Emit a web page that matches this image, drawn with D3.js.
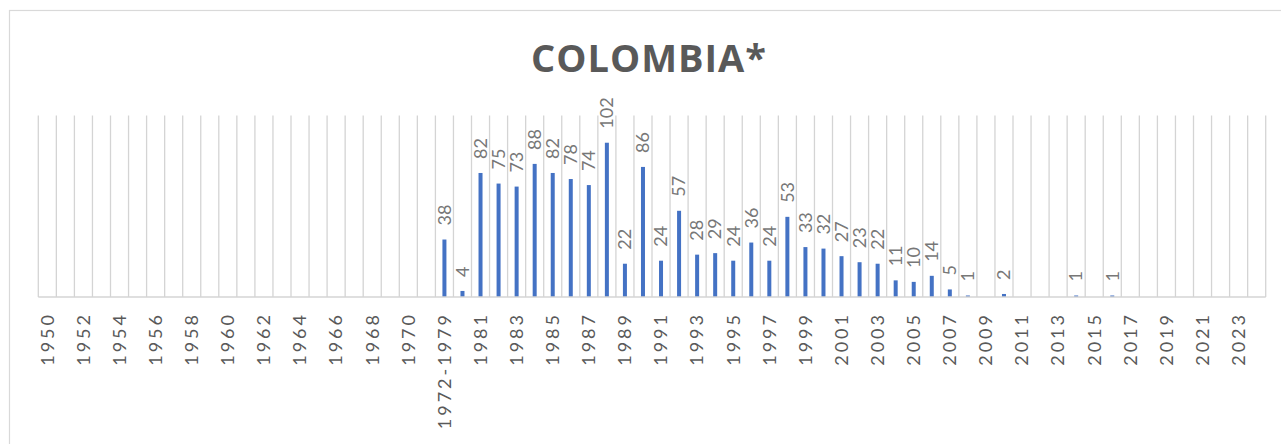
<!DOCTYPE html>
<html>
<head>
<meta charset="utf-8">
<script src="https://cdn.jsdelivr.net/npm/d3@7"></script>
<style>
  html, body { margin: 0; padding: 0; background: #fff; }
  svg { display: block; }
</style>
</head>
<body>
<svg id="chart" width="1281" height="444"></svg>
<script>
// ---- data ----
const title = "COLOMBIA*";
const categories = [
  "1950","1951","1952","1953","1954","1955","1956","1957","1958","1959",
  "1960","1961","1962","1963","1964","1965","1966","1967","1968","1969",
  "1970","1971","1972-1979","1980","1981","1982","1983","1984","1985","1986",
  "1987","1988","1989","1990","1991","1992","1993","1994","1995","1996",
  "1997","1998","1999","2000","2001","2002","2003","2004","2005","2006",
  "2007","2008","2009","2010","2011","2012","2013","2014","2015","2016",
  "2017","2018","2019","2020","2021","2022","2023","2024"
];
const values = [
  null,null,null,null,null,null,null,null,null,null,
  null,null,null,null,null,null,null,null,null,null,
  null,null,38,4,82,75,73,88,82,78,
  74,102,22,86,24,57,28,29,24,36,
  24,53,33,32,27,23,22,11,10,14,
  5,1,null,2,null,null,null,1,null,1,
  null,null,null,null,null,null,null,null
];
const tickLabels = categories.filter((d, i) => i % 2 === 0);
const yMax = 120;

// ---- drawing ----
const svg = d3.select("#chart");
const plotLeft = 38.3, plotRight = 1265.7, plotTop = 115.5, plotBottom = 297;

// chart area border (extends beyond the visible window)
svg.append("rect")
  .attr("x", 9.5).attr("y", 10.5)
  .attr("width", 1400).attr("height", 600)
  .attr("fill", "#fff").attr("stroke", "#d9d9d9").attr("stroke-width", 1.2);

const x = d3.scaleBand().domain(categories).range([plotLeft, plotRight]).padding(0);
const y = d3.scaleLinear().domain([0, yMax]).range([plotBottom, plotTop]);

// title
svg.append("text")
  .attr("x", 649).attr("y", 72)
  .attr("text-anchor", "middle")
  .style("font-family", "'Open Sans', Lato, sans-serif")
  .style("font-weight", 700)
  .style("font-size", "38px")
  .style("letter-spacing", "1px")
  .attr("fill", "#595959")
  .text(title);

// vertical gridlines at category boundaries
const bounds = categories.map(c => x(c)).concat([x.range()[1]]);
svg.append("g").selectAll("line").data(bounds).join("line")
  .attr("x1", d => d).attr("x2", d => d)
  .attr("y1", y(yMax)).attr("y2", y(0))
  .attr("stroke", "#d4d4d4").attr("stroke-width", 1.3);

// bars
const data = categories.map((c, i) => ({ c, v: values[i] })).filter(d => d.v !== null);
const barW = 4;
svg.append("g").selectAll("rect").data(data).join("rect")
  .attr("x", d => x(d.c) + x.bandwidth() / 2 - barW / 2)
  .attr("width", barW)
  .attr("y", d => y(d.v))
  .attr("height", d => y(0) - y(d.v))
  .attr("fill", "#4472c4");

// data labels
svg.append("g").selectAll("text").data(data).join("text")
  .attr("transform", d => `translate(${x(d.c) + x.bandwidth() / 2},${y(d.v) - 14}) rotate(-90)`)
  .attr("dy", "0.35em")
  .attr("text-anchor", "start")
  .style("font-family", "Lato, sans-serif")
  .style("font-size", "18px")
  .attr("fill", "#777777")
  .text(d => d.v);

// x axis
const xAxis = d3.axisBottom(x).tickValues(tickLabels).tickSize(0);
const gx = svg.append("g").attr("transform", `translate(0,${plotBottom})`).call(xAxis);
gx.select(".domain").remove();
gx.append("line")
  .attr("x1", plotLeft).attr("x2", plotRight)
  .attr("y1", 0).attr("y2", 0)
  .attr("stroke", "#d4d4d4").attr("stroke-width", 1.3);
gx.selectAll(".tick text")
  .attr("transform", "rotate(-90)")
  .attr("x", -15).attr("y", 0).attr("dy", "0.35em")
  .style("text-anchor", "end")
  .style("font-family", "Lato, sans-serif")
  .style("font-size", "18px")
  .style("letter-spacing", "3px")
  .attr("fill", "#595959");
</script>
</body>
</html>
